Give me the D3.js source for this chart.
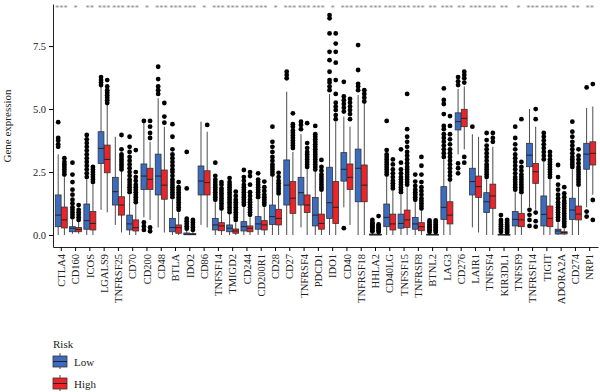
<!DOCTYPE html>
<html>
<head>
<meta charset="utf-8">
<script src="https://cdn.jsdelivr.net/npm/d3@7"></script>
<style>
  body { margin: 0; background: #fff; }
  svg { display: block; font-family: "Liberation Serif", "DejaVu Serif", serif; }
</style>
</head>
<body>
<svg id="chart" width="600" height="392"></svg>
<script>
// genes on the x axis
const genes = ["CTLA4","CD160","ICOS","LGALS9","TNFRSF25","CD70","CD200","CD48","BTLA","IDO2",
  "CD86","TNFSF14","TMIGD2","CD244","CD200R1","CD28","CD27","TNFRSF4","PDCD1","IDO1",
  "CD40","TNFRSF18","HHLA2","CD40LG","TNFSF15","TNFRSF8","BTNL2","LAG3","CD276","LAIR1",
  "TNFSF4","KIR3DL1","TNFSF9","TNFRSF14","TIGIT","ADORA2A","CD274","NRP1"];

const stars = ["***","*","**","***","***","***","*","***","***","***",
  "*","***","***","***","***","*","***","***","***","*",
  "***","***","***","***","***","***","**","***","**","***",
  "***","**","*","***","***","***","**","**"];

const groups = ["Low", "High"];
const yTicks = [0, 2.5, 5, 7.5];

// [min, q1, median, q3, max] per gene
const lowStats = [
  [0,0.33,0.79,1.59,3.2],[0.05,0.13,0.27,0.33,0.6],[0,0.23,0.57,1.23,2.2],[1.0,2.84,3.44,4.1,5.9],
  [0.4,1.19,1.72,2.29,3.9],[0,0.2,0.44,0.79,1.6],[0.7,1.81,2.34,2.82,4.5],[0.3,1.59,2.34,3.21,5.43],
  [0,0.13,0.3,0.66,1.4],[0,0.01,0.03,0.08,0.18],[0.4,1.59,2.14,2.74,4.5],[0,0.2,0.4,0.66,1.3],
  [0,0.13,0.27,0.4,0.8],[0,0.16,0.33,0.53,1.1],[0,0.23,0.44,0.73,1.4],[0,0.42,0.73,1.19,2.3],
  [0,1.19,1.98,2.98,5.69],[0.3,1.19,1.68,2.29,4.0],[0,0.36,0.79,1.49,2.5],[0,0.66,1.28,2.69,5.6],
  [1.1,2.14,2.61,3.27,4.7],[0,1.32,2.65,3.41,5.56],[0,0,0.01,0.04,0.1],[0,0.33,0.7,1.23,2.3],
  [0,0.27,0.46,0.83,1.6],[0,0.23,0.44,0.7,1.3],[0,0,0.01,0.03,0.08],[0,0.62,1.1,1.92,3.0],
  [3.2,4.17,4.5,4.85,5.8],[0.3,1.59,2.12,2.65,4.0],[0,0.89,1.32,1.68,2.2],[0,0,0.01,0.03,0.08],
  [0,0.36,0.62,0.93,1.7],[1.1,2.71,3.17,3.64,5.0],[0,0.36,0.82,1.55,2.9],[0,0.04,0.16,0.23,0.5],
  [0,0.62,0.99,1.46,2.6],[1.1,2.61,3.21,3.64,5.04]
];
const highStats = [
  [0,0.28,0.6,1.11,2.3],[0.05,0.13,0.22,0.3,0.55],[0,0.2,0.46,0.93,2.0],[0.9,2.47,3.0,3.57,5.2],
  [0.1,0.79,1.19,1.52,2.5],[0,0.16,0.29,0.6,1.2],[0.6,1.81,2.21,2.65,3.7],[0.1,1.42,1.98,2.58,4.3],
  [0,0.07,0.29,0.4,0.9],[0,0.01,0.02,0.06,0.14],[0.3,1.59,2.08,2.55,4.1],[0,0.17,0.36,0.49,0.95],
  [0,0.07,0.16,0.24,0.5],[0,0.13,0.27,0.36,0.7],[0,0.2,0.4,0.57,1.1],[0,0.4,0.66,1.02,1.55],
  [0,0.86,1.46,2.12,3.3],[0,0.89,1.19,1.59,2.6],[0,0.23,0.46,0.83,1.7],[0,0.46,1.1,2.12,4.5],
  [0.4,1.81,2.29,2.82,4.3],[0,1.32,1.98,2.78,5.2],[0,0,0.01,0.03,0.08],[0,0.2,0.44,0.83,1.75],
  [0,0.3,0.6,0.99,1.9],[0,0.17,0.33,0.49,0.95],[0,0,0.01,0.03,0.07],[0,0.44,0.79,1.32,2.1],
  [3.4,4.3,4.63,4.99,5.9],[0.1,1.49,1.92,2.34,3.9],[0,1.06,1.55,2.02,3.5],[0,0,0.01,0.02,0.06],
  [0,0.33,0.6,0.86,1.6],[1.0,2.05,2.51,2.84,4.3],[0,0.33,0.66,1.15,2.2],[0,0.04,0.1,0.13,0.25],
  [0,0.6,0.83,1.15,1.9],[1.6,2.78,3.24,3.7,5.1]
];

// outlier points per gene
const lowOut = [
  [3.5,3.6,3.75,3.85,4.48],
  [0.7,0.8,0.9,1.0,1.1,1.25,1.4,1.6,1.8,2.1,2.4,2.87],
  [2.3,2.45,2.6,2.75,2.9,3.05,3.2,3.35,3.5,3.65,3.8,3.97],
  [5.95,6.05,6.15,6.27],
  [],
  [1.7,1.8,1.9,2.0,2.1,2.2,2.35,2.5,2.65,2.8,2.95,3.1,3.3,3.5,3.9],
  [0.2,0.35,0.5,4.53],
  [5.6,5.75,5.9,6.19,6.68],
  [1.5,1.6,1.7,1.8,1.9,2.0,2.1,2.2,2.35,2.5,2.6,2.75,2.9,3.05,3.2,3.4,3.9,4.4],
  [0.25,0.35,0.45,0.55,0.65,1.85,3.3],
  [],
  [1.4,1.5,1.6,1.7,1.8,1.9,2.0,2.1,2.2,2.35,2.87],
  [0.9,1.0,1.1,1.2,1.3,1.4,1.5,1.6,1.7,1.8,1.9,2.0,2.1,2.26],
  [1.2,1.3,1.4,1.5,1.6,1.7,1.8,1.9,2.0,2.15,2.3,2.58],
  [1.5,1.6,1.7,1.8,1.9,2.0,2.1,2.2,2.45],
  [2.4,2.5,2.6,2.7,2.8,2.95,3.1,3.3,3.5,3.7,4.3],
  [6.22,6.35,6.48],
  [4.2,4.37,4.5],
  [2.6,2.7,2.8,2.9,3.0,3.1,3.2,3.3,3.4,3.5,3.6,3.7,3.8,3.9,4.0,4.33],
  [5.75,5.9,6.05,6.15,6.48,6.94,7.27,8.0,8.6,8.73],
  [0.27,4.9,5.05,5.2,5.35,5.5,6.08],
  [5.75,5.9,6.0,6.55,7.54],
  [0.15,0.2,0.25,0.3,0.35,0.4,0.45,0.5,0.6],
  [2.4,2.5,2.6,2.7,2.8,2.9,3.0,3.1,3.2,3.37,4.53],
  [1.7,1.8,1.9,2.0,2.1,2.2,2.3,2.45,2.6,2.87,3.4],
  [1.4,1.5,1.6,1.7,1.8,1.95,2.12,2.4],
  [0.12,0.18,0.24,0.3,0.36,0.42,0.5,0.58],
  [3.1,3.25,3.4,3.55,3.7,3.85,4.0,4.2,4.33,4.8,5.2,5.36,5.82],
  [2.45,2.65,2.84,5.95,6.1,6.27],
  [4.3],
  [2.3,2.4,2.5,2.6,2.7,2.8,2.95,3.1,3.25,3.4,3.55,3.77,4.05],
  [0.13,0.2,0.27,0.35,0.43,0.52,0.6,0.79],
  [1.8,1.9,2.0,2.1,2.2,2.3,2.45,2.6,2.75,2.9,3.05,3.2,3.4,3.6,3.85,4.3],
  [0.36,0.6,0.8,1.0],
  [3.0,3.15,3.3,3.45,3.6,3.75,3.9,4.05],
  [0.6,0.7,0.8,0.9,1.0,1.1,1.2,1.3,1.45,1.6,1.8,2.0,2.3,2.78],
  [2.7,2.8,2.9,3.0,3.1,3.25,3.4,3.55,3.7,3.9,4.1,4.5],
  [0.73,0.93,5.86]
];
const highOut = [
  [2.4,2.5,2.6,2.7,2.8,2.9,3.05],
  [0.6,0.7,0.8,0.9,1.0,1.19],
  [2.1,2.2,2.3,2.4,2.5,2.6,2.7],
  [5.24,5.35,5.45,5.55,5.65,5.75,5.9,6.15],
  [2.6,2.7,2.8,2.9,3.0,3.1,3.2,3.4,3.97],
  [1.3,1.4,1.5,1.6,1.7,1.8,1.9,2.0,2.15,2.3,2.5,3.37],
  [0.15,0.3,3.85,4.05,4.3,4.53],
  [4.46,4.7,5.24],
  [1.0,1.1,1.2,1.3,1.4,1.5,1.6,1.7,1.8,1.9,2.1],
  [0.2,0.3,0.4,0.5,0.6],
  [4.37],
  [1.05,1.15,1.25,1.35,1.45,1.55,1.65,1.75,1.85,2.0,2.1],
  [0.6,0.7,0.8,0.9,1.0,1.1,1.2,1.3,1.4,1.55,1.72],
  [0.8,0.9,1.0,1.1,1.2,1.3,1.4,1.55,1.7,2.0,2.34,2.5],
  [1.2,1.3,1.4,1.5,1.6,1.75,1.9,2.12],
  [1.65,1.75,1.85,1.95,2.05,2.15,2.3,2.47],
  [3.45,3.55,3.65,3.75,3.85,3.95,4.05,4.15,4.3,4.4,4.83],
  [2.7,2.8,2.9,3.0,3.1,3.2,3.3,3.45,3.65,4.44],
  [1.8,1.9,2.0,2.1,2.2,2.3,2.4,2.55,2.7,2.98],
  [4.6,4.76,4.96,5.1,5.25,5.6,6.15,6.84,7.27,7.6,8.0],
  [4.6,4.8,4.96,5.1,5.25,5.4],
  [5.3,5.45,5.6,5.75],
  [0.12,0.18,0.24,0.3,0.36,0.42,0.75],
  [1.85,1.95,2.05,2.15,2.3,2.45,2.6,2.8,3.0],
  [2.0,2.1,2.2,2.3,2.4,2.5,2.6,2.7,2.85,3.0,3.15,3.3,3.5,3.7,3.9,4.2,5.6],
  [1.05,1.15,1.25,1.35,1.45,1.6,1.75,1.9,2.1,2.4,2.75,3.1],
  [0.12,0.18,0.24,0.3,0.36,0.42,0.5,0.58],
  [2.2,2.35,2.5,2.65,2.8,2.95,3.1,3.25,3.4,3.6,3.8,4.0,4.33,4.72],
  [2.87,3.1,6.05,6.22,6.35,6.48],
  [],
  [3.7,3.85,4.05],
  [0.1,0.16,0.22,0.28,0.35,0.42,0.5,0.6],
  [1.7,1.8,1.9,2.0,2.1,2.2,2.3,2.4,2.55,2.7,2.9,4.6],
  [0.33,0.55,0.89,4.6,5.0],
  [2.3,2.4,2.5,2.6,2.7,2.8,2.9,3.0,3.15,3.3],
  [0.35,0.45,0.55,0.65,0.75,0.85,0.95,1.05,1.15,1.25,1.35,1.5,1.65,1.9],
  [2.0,2.1,2.2,2.3,2.4,2.5,2.6,2.7,2.85,3.0,3.15,3.4],
  [0.6,1.39,5.99]
];

const colors = { Low: "#3C6CC0", High: "#EC2329" };

const svg = d3.select("#chart");
const plotLeft = 53, plotRight = 598, plotTop = 4, plotBottom = 247;

const x = d3.scaleBand()
  .domain(genes)
  .range([plotLeft, plotRight])
  .padding(0.16);

const x1 = d3.scaleBand()
  .domain(groups)
  .range([0, x.bandwidth()])
  .paddingInner(0.06);

const y = d3.scaleLinear()
  .domain([-0.476, 9.17])
  .range([plotBottom, plotTop]);

// axes
const yAxis = svg.append("g")
  .attr("transform", "translate(" + plotLeft + ",0)")
  .call(d3.axisLeft(y).tickValues(yTicks).tickFormat(d3.format(".1f")).tickSize(4).tickSizeOuter(0));
yAxis.selectAll("text").attr("font-size", 10.5).attr("fill", "#222").attr("font-family", "Liberation Serif");
yAxis.select(".domain").attr("stroke", "#222");

const xAxis = svg.append("g")
  .attr("transform", "translate(0," + plotBottom + ")")
  .call(d3.axisBottom(x).tickSize(4).tickSizeOuter(0));
xAxis.selectAll("text")
  .attr("font-size", 10.5)
  .attr("fill", "#222")
  .attr("font-family", "Liberation Serif")
  .attr("transform", "rotate(-90)")
  .attr("x", -7)
  .attr("y", 0)
  .attr("dy", "0.35em")
  .style("text-anchor", "end");
xAxis.select(".domain").attr("stroke", "#222");

svg.append("text")
  .attr("transform", "translate(11,126)rotate(-90)")
  .attr("text-anchor", "middle")
  .attr("font-size", 11)
  .attr("fill", "#222")
  .text("Gene expression");

// significance stars
svg.append("g").selectAll("text")
  .data(genes)
  .enter()
  .append("text")
  .attr("x", d => x(d) + x.bandwidth() / 2)
  .attr("y", 11)
  .attr("text-anchor", "middle")
  .attr("font-size", 8.5)
  .attr("fill", "#8c8c8c")
  .text((d, i) => stars[i]);

// boxes
const boxData = [];
genes.forEach((g, i) => {
  boxData.push({ gene: g, grp: "Low", s: lowStats[i], out: lowOut[i] });
  boxData.push({ gene: g, grp: "High", s: highStats[i], out: highOut[i] });
});

const bw = x1.bandwidth();
const boxes = svg.append("g").selectAll("g")
  .data(boxData)
  .enter()
  .append("g")
  .attr("transform", d => "translate(" + (x(d.gene) + x1(d.grp)) + ",0)");

boxes.append("line")
  .attr("x1", bw / 2).attr("x2", bw / 2)
  .attr("y1", d => y(d.s[0]))
  .attr("y2", d => y(d.s[4]))
  .attr("stroke", "#4d4d4d")
  .attr("stroke-width", 1);

boxes.append("rect")
  .attr("x", 0)
  .attr("width", bw)
  .attr("y", d => y(d.s[3]))
  .attr("height", d => Math.max(0.6, y(d.s[1]) - y(d.s[3])))
  .attr("fill", d => colors[d.grp])
  .attr("stroke", "#333")
  .attr("stroke-width", 0.8);

boxes.append("line")
  .attr("x1", 0).attr("x2", bw)
  .attr("y1", d => y(d.s[2]))
  .attr("y2", d => y(d.s[2]))
  .attr("stroke", "#222")
  .attr("stroke-width", 1);

boxes.selectAll("circle")
  .data(d => d.out)
  .enter()
  .append("circle")
  .attr("cx", bw / 2)
  .attr("cy", d => y(d))
  .attr("r", 2.4)
  .attr("fill", "#000");

// legend
const legend = svg.append("g");
legend.append("text")
  .attr("x", 53).attr("y", 348)
  .attr("font-size", 11).attr("fill", "#222")
  .text("Risk");

const legendItems = legend.selectAll("g")
  .data(groups)
  .enter()
  .append("g")
  .attr("transform", (d, i) => "translate(53," + (355 + i * 22) + ")");

legendItems.append("line")
  .attr("x1", 7).attr("x2", 7)
  .attr("y1", -2).attr("y2", 14)
  .attr("stroke", "#4d4d4d");
legendItems.append("rect")
  .attr("x", 0).attr("y", 1)
  .attr("width", 14).attr("height", 11)
  .attr("fill", d => colors[d])
  .attr("stroke", "#333").attr("stroke-width", 0.8);
legendItems.append("line")
  .attr("x1", 0).attr("x2", 14)
  .attr("y1", 6.5).attr("y2", 6.5)
  .attr("stroke", "#222");
legendItems.append("text")
  .attr("x", 21).attr("y", 11)
  .attr("font-size", 11).attr("fill", "#222")
  .text(d => d);
</script>
</body>
</html>
